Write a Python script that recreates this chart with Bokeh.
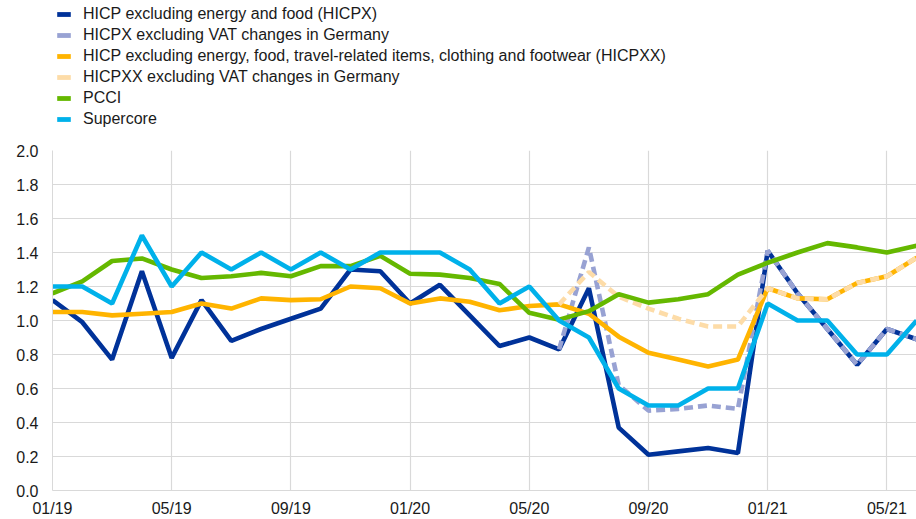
from bokeh.plotting import figure
from bokeh.layouts import column
from bokeh.models import Range1d, Legend, LegendItem, FixedTicker, PrintfTickFormatter
from bokeh.embed import file_html
from bokeh.resources import INLINE

nan = float("nan")

months = ["01/19", "02/19", "03/19", "04/19", "05/19", "06/19", "07/19", "08/19", "09/19", "10/19",
          "11/19", "12/19", "01/20", "02/20", "03/20", "04/20", "05/20", "06/20", "07/20", "08/20",
          "09/20", "10/20", "11/20", "12/20", "01/21", "02/21", "03/21", "04/21", "05/21", "06/21"]

hicpx = [1.12, 0.99, 0.77, 1.29, 0.78, 1.12, 0.88, 0.95, 1.01, 1.07,
         1.30, 1.29, 1.10, 1.21, 1.03, 0.85, 0.90, 0.83, 1.19, 0.37,
         0.21, 0.23, 0.25, 0.22, 1.41, 1.16, 0.95, 0.74, 0.95, 0.89]

hicpx_vat = [nan, nan, nan, nan, nan, nan, nan, nan, nan, nan,
             nan, nan, nan, nan, nan, nan, nan, 0.83, 1.43, 0.62,
             0.47, 0.48, 0.50, 0.48, 1.41, 1.16, 0.95, 0.74, 0.95, 0.89]

hicpxx = [1.05, 1.05, 1.03, 1.04, 1.05, 1.10, 1.07, 1.13, 1.12, 1.125,
          1.20, 1.19, 1.10, 1.13, 1.11, 1.06, 1.085, 1.095, 1.04, 0.905,
          0.81, 0.77, 0.73, 0.77, 1.19, 1.13, 1.125, 1.22, 1.26, 1.37]

hicpxx_vat = [nan, nan, nan, nan, nan, nan, nan, nan, nan, nan,
              nan, nan, nan, nan, nan, nan, nan, 1.095, 1.285, 1.14,
              1.07, 1.01, 0.965, 0.965, 1.19, 1.13, 1.125, 1.22, 1.26, 1.37]

pcci = [1.16, 1.23, 1.35, 1.365, 1.30, 1.25, 1.26, 1.28, 1.26, 1.32,
        1.32, 1.38, 1.275, 1.27, 1.25, 1.215, 1.045, 1.005, 1.055, 1.155,
        1.105, 1.125, 1.155, 1.27, 1.34, 1.40, 1.455, 1.43, 1.40, 1.44]

supercore = [1.2, 1.2, 1.1, 1.5, 1.2, 1.4, 1.3, 1.4, 1.3, 1.4,
             1.3, 1.4, 1.4, 1.4, 1.3, 1.1, 1.2, 1.0, 0.9, 0.6,
             0.5, 0.5, 0.6, 0.6, 1.1, 1.0, 1.0, 0.8, 0.8, 1.0]

series_labels = [
    "HICP excluding energy and food (HICPX)",
    "HICPX excluding VAT changes in Germany",
    "HICP excluding energy, food, travel-related items, clothing and footwear (HICPXX)",
    "HICPXX excluding VAT changes in Germany",
    "PCCI",
    "Supercore",
]
y_ticks = [0.0, 0.2, 0.4, 0.6, 0.8, 1.0, 1.2, 1.4, 1.6, 1.8, 2.0]
x_tick_step = 4

colors = ["#003299", "#98a2d3", "#ffb400", "#fddca8", "#65b800", "#00b1ea"]
dashes = ["solid", "9 5", "solid", "9 5", "solid", "solid"]
series = [hicpx, hicpx_vat, hicpxx, hicpxx_vat, pcci, supercore]

W = 916
LEG_H = 140
CH_H = 379
left_b, top_b, bottom_b = 52, 10, 27
px_per_month = 29.8
frame_w = W - left_b

font = "Liberation Sans"
txt_color = "#1a1a1a"

# ---- legend figure (frame is aligned with the chart frame by the column) ----
lf = figure(width=W, height=LEG_H, output_backend="svg", toolbar_location=None,
            x_range=Range1d(0, 1), y_range=Range1d(0, 1),
            x_axis_type=None, y_axis_type=None,
            min_border_left=0, min_border_right=0, min_border_top=0, min_border_bottom=0)
lf.outline_line_color = None
lf.grid.visible = False

items = []
for lab, c in zip(series_labels, colors):
    r = lf.quad(left=[nan], right=[nan], top=[nan], bottom=[nan], fill_color=c, line_color=None)
    items.append(LegendItem(label=lab, renderers=[r]))

row_h, spacing = 18, 3
leg_h = len(items) * row_h + (len(items) - 1) * spacing
first_center = 14
legend = Legend(items=items, location=(3, LEG_H - (first_center - row_h / 2) - leg_h),
                orientation="vertical", glyph_width=17, glyph_height=6,
                label_height=row_h, spacing=spacing, label_standoff=11,
                padding=0, margin=0, border_line_color=None, background_fill_alpha=0,
                label_text_font=font, label_text_font_size="16px",
                label_text_color=txt_color)
lf.add_layout(legend, "center")

# ---- chart figure ----
x = list(range(len(months)))

p = figure(width=W, height=CH_H, output_backend="svg", toolbar_location=None,
           x_range=Range1d(0, frame_w / px_per_month), y_range=Range1d(0, 2.0),
           min_border_left=left_b, min_border_right=0, min_border_top=top_b,
           min_border_bottom=bottom_b)
p.outline_line_color = None

p.xaxis.ticker = FixedTicker(ticks=x[::x_tick_step])
p.xaxis.major_label_overrides = {i: months[i] for i in x[::x_tick_step]}
p.yaxis.ticker = FixedTicker(ticks=y_ticks)
p.yaxis.formatter = PrintfTickFormatter(format="%.1f")
for ax in (p.xaxis[0], p.yaxis[0]):
    ax.major_tick_line_color = None
    ax.minor_tick_line_color = None
    ax.major_tick_out = 0
    ax.major_tick_in = 0
    ax.minor_tick_out = 0
    ax.minor_tick_in = 0
    ax.axis_line_color = "#d9d9d9"
    ax.major_label_text_font = font
    ax.major_label_text_font_size = "16px"
    ax.major_label_text_color = txt_color
    ax.major_label_text_line_height = 1.0
p.xaxis.major_label_standoff = 9
p.yaxis.major_label_standoff = 14

p.xgrid.ticker = FixedTicker(ticks=x[::x_tick_step])
p.ygrid.ticker = FixedTicker(ticks=y_ticks)
p.xgrid.grid_line_color = "#d9d9d9"
p.ygrid.grid_line_color = "#d9d9d9"
p.xgrid.grid_line_width = 1.2
p.ygrid.grid_line_width = 1.2

for ys, c, d in zip(series, colors, dashes):
    p.line(x, ys, line_color=c, line_width=4.6, line_dash=d)

layout = column(lf, p, spacing=0)
open("out.html", "w").write(file_html(layout, INLINE))
